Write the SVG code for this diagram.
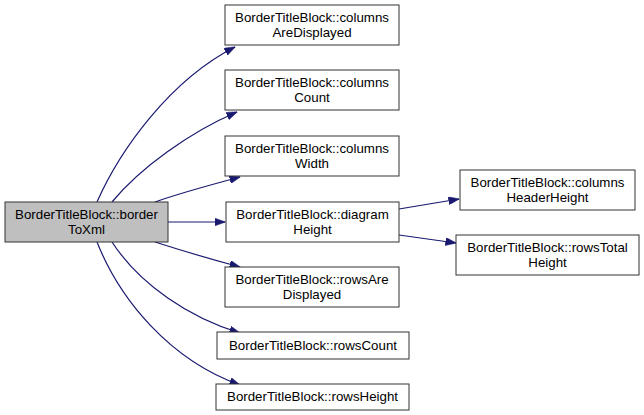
<svg xmlns="http://www.w3.org/2000/svg" width="644" height="415" viewBox="0 0 644 415">
<style>
  .node rect { fill: #ffffff; stroke: #333333; stroke-width: 1; }
  .node.main rect { fill: #bfbfbf; }
  text { font-family: "Liberation Sans", Arial, sans-serif; font-size: 13.3px; fill: #000000; text-anchor: middle; }
  .edge { fill: none; stroke: #191970; stroke-width: 1.2; marker-end: url(#arr); }
</style>
<defs>
  <marker id="arr" markerUnits="userSpaceOnUse" markerWidth="11" markerHeight="8" refX="10.5" refY="4" orient="auto">
    <path d="M0,0 L11,4 L0,8 z" fill="#191970" stroke="#191970" stroke-width="0.5"/>
  </marker>
</defs>
<rect width="644" height="415" fill="#ffffff"/>
<g id="connectors">
  <path class="edge" d="M97,202 C120,150 170,80 235,47"/>
  <path class="edge" d="M112,202 C140,168 190,132 237,112"/>
  <path class="edge" d="M155,202 C180,193 210,185 240,177"/>
  <path class="edge" d="M168,222 L225,222"/>
  <path class="edge" d="M155,242 C180,250 210,259 240,267"/>
  <path class="edge" d="M112,242 C140,285 190,318 240,333"/>
  <path class="edge" d="M97,242 C120,300 170,360 240,385"/>
  <path class="edge" d="M399,209 L459,199"/>
  <path class="edge" d="M399,235 L456,243"/>
</g>
<g id="borderToXml" class="node main">
  <rect x="5" y="202" width="163" height="40"/>
  <text x="86.5" y="219">BorderTitleBlock::border</text>
  <text x="86.5" y="234">ToXml</text>
</g>
<g id="columnsAreDisplayed" class="node">
  <rect x="225" y="5" width="174" height="40"/>
  <text x="312" y="22">BorderTitleBlock::columns</text>
  <text x="312" y="37">AreDisplayed</text>
</g>
<g id="columnsCount" class="node">
  <rect x="225" y="70" width="174" height="40"/>
  <text x="312" y="87">BorderTitleBlock::columns</text>
  <text x="312" y="102">Count</text>
</g>
<g id="columnsWidth" class="node">
  <rect x="225" y="136" width="174" height="40"/>
  <text x="312" y="153">BorderTitleBlock::columns</text>
  <text x="312" y="168">Width</text>
</g>
<g id="diagramHeight" class="node">
  <rect x="226" y="202" width="173" height="40"/>
  <text x="312.5" y="219">BorderTitleBlock::diagram</text>
  <text x="312.5" y="234">Height</text>
</g>
<g id="rowsAreDisplayed" class="node">
  <rect x="225" y="267" width="174" height="40"/>
  <text x="312" y="284">BorderTitleBlock::rowsAre</text>
  <text x="312" y="299">Displayed</text>
</g>
<g id="rowsCount" class="node">
  <rect x="217" y="332" width="192" height="27"/>
  <text x="313" y="350">BorderTitleBlock::rowsCount</text>
</g>
<g id="rowsHeight" class="node">
  <rect x="216" y="384" width="193" height="26"/>
  <text x="312.5" y="401">BorderTitleBlock::rowsHeight</text>
</g>
<g id="columnsHeaderHeight" class="node">
  <rect x="460" y="170" width="175" height="40"/>
  <text x="547.5" y="187">BorderTitleBlock::columns</text>
  <text x="547.5" y="202">HeaderHeight</text>
</g>
<g id="rowsTotalHeight" class="node">
  <rect x="456" y="235" width="183" height="40"/>
  <text x="547.5" y="252">BorderTitleBlock::rowsTotal</text>
  <text x="547.5" y="267">Height</text>
</g>
</svg>
